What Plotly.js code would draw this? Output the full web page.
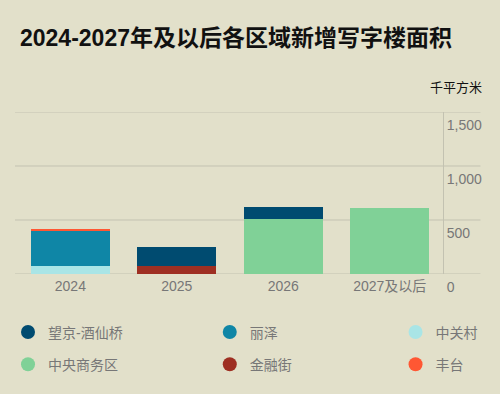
<!DOCTYPE html>
<html>
<head>
<meta charset="utf-8">
<script src="https://cdn.plot.ly/plotly-3.0.1.min.js"></script>
<style>html,body{margin:0;padding:0;background:#e2e0ca;}#chart{width:500px;height:394px;}</style>
</head>
<body>
<div id="chart"></div>
<script>
const categories = ["2024", "2025", "2026", "2027及以后"];
const seriesNames = ["望京-酒仙桥", "丽泽", "中关村", "中央商务区", "金融街", "丰台"];
const wangjing = [0, 170, 108, 0];
const lize = [320, 0, 0, 0];
const zhongguancun = [75, 0, 0, 0];
const cbd = [0, 0, 510, 614];
const jinrongjie = [0, 77, 0, 0];
const fengtai = [18, 0, 0, 0];
const yTicks = [0, 500, 1000, 1500];
const titleText = "2024-2027年及以后各区域新增写字楼面积";
const unitText = "千平方米";

const colors = {
  "望京-酒仙桥": "#004b70",
  "丽泽": "#0f86a6",
  "中关村": "#a9e5e6",
  "中央商务区": "#80d197",
  "金融街": "#9e2f22",
  "丰台": "#ff5733"
};
const values = {
  "望京-酒仙桥": wangjing,
  "丽泽": lize,
  "中关村": zhongguancun,
  "中央商务区": cbd,
  "金融街": jinrongjie,
  "丰台": fengtai
};
// stacking order (bottom to top)
const stackOrder = ["中关村", "金融街", "中央商务区", "丽泽", "望京-酒仙桥", "丰台"];
const FONT = "Liberation Sans, Noto Sans CJK SC, sans-serif";
const GRID = "#c3c2b1";

const traces = stackOrder.map(n => ({
  type: "bar", name: n, x: categories, y: values[n],
  marker: {color: colors[n], line: {width: 0}},
  showlegend: false, hoverinfo: "x+y+name"
}));
// legend entries (circles), split into 3 column legends
const legendIds = ["legend", "legend2", "legend3"];
seriesNames.forEach((n, i) => {
  traces.push({
    type: "scatter", mode: "markers", name: n, x: [null], y: [null],
    marker: {color: colors[n], size: 14, symbol: "circle"},
    legend: legendIds[i % 3], legendgroup: n, showlegend: true
  });
});

const legendBase = {
  orientation: "v", bgcolor: "rgba(0,0,0,0)", borderwidth: 0,
  font: {family: FONT, size: 14, color: "#777777"},
  itemsizing: "trace", tracegroupgap: 11, traceorder: "grouped",
  xanchor: "left", yanchor: "top", y: -0.262
};

// gridlines (extend beyond the axis line under the tick labels)
const gridShapes = yTicks.map(v => ({
  type: "line", xref: "paper", yref: "y", layer: "below",
  x0: 0, x1: (481 - 15) / 428.5, y0: v, y1: v,
  line: {color: GRID, width: 1}
}));

const layout = {
  width: 500, height: 394,
  paper_bgcolor: "#e2e0ca", plot_bgcolor: "#e2e0ca",
  margin: {l: 15, r: 56.5, t: 112, b: 120, autoexpand: false},
  font: {family: FONT},
  title: {
    text: titleText, xref: "container", yref: "container",
    x: 0.04, xanchor: "left", y: 1 - 38/394, yanchor: "middle",
    font: {family: "Liberation Sans, Noto Sans CJK SC, sans-serif", size: 23, color: "#111111", weight: 700}
  },
  barmode: "stack", bargap: 0.26,
  xaxis: {
    type: "category", range: [-0.52, 3.5], showgrid: false, zeroline: false,
    showline: false, ticks: "",
    tickfont: {family: FONT, size: 14, color: "#777777"},
    ticklabelstandoff: 2, fixedrange: true
  },
  yaxis: {
    side: "right", range: [0, 1500], tickvals: yTicks, tickformat: ",d",
    showgrid: false, zeroline: false,
    showline: true, linecolor: GRID, linewidth: 1,
    ticks: "", ticklabelshift: 13,
    tickfont: {family: FONT, size: 14, color: "#777777"}, fixedrange: true
  },
  shapes: gridShapes,
  legend: Object.assign({}, legendBase, {x: (8 - 15) / 428.5}),
  legend2: Object.assign({}, legendBase, {x: (210 - 15) / 428.5}),
  legend3: Object.assign({}, legendBase, {x: (396 - 15) / 428.5}),
  annotations: [{
    text: unitText, xref: "paper", yref: "paper",
    x: (485 - 15) / 428.5, xanchor: "right", y: (274 - 86) / 162, yanchor: "middle",
    showarrow: false, font: {family: "Noto Sans CJK SC, sans-serif", size: 13, color: "#111111"}
  }],
  showlegend: true
};

Plotly.newPlot("chart", traces, layout, {displayModeBar: false, staticPlot: true});
</script>
</body>
</html>
